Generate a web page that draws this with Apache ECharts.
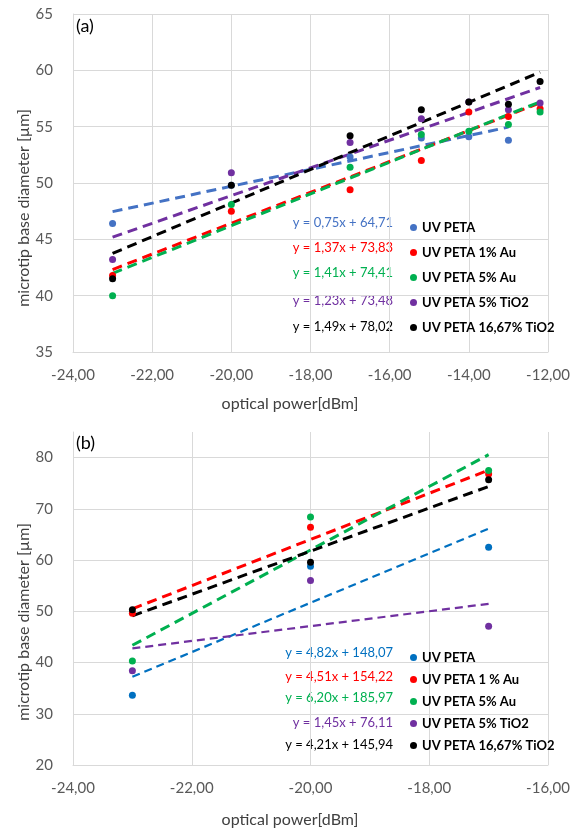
<!DOCTYPE html>
<html>
<head>
<meta charset="utf-8">
<script src="https://cdn.jsdelivr.net/npm/echarts@6/dist/echarts.min.js"></script>
<style>
  html, body { margin: 0; padding: 0; background: #fff; }
  #chart { width: 579px; height: 830px; }
</style>
</head>
<body>
<div id="chart"></div>
<script>
// ---- data ----
const seriesNamesA = ['UV PETA', 'UV PETA 1% Au', 'UV PETA 5% Au', 'UV PETA 5% TiO2', 'UV PETA 16,67% TiO2']
const seriesNamesB = ['UV PETA', 'UV PETA 1 % Au', 'UV PETA 5% Au', 'UV PETA 5% TiO2', 'UV PETA 16,67% TiO2']
const colorsA = ['#4472C4', '#FF0000', '#00B050', '#7030A0', '#000000']
const colorsB = ['#0070C0', '#FF0000', '#00B050', '#7030A0', '#000000']

// (a)
const xA = [-23, -20, -17, -15.2, -14, -13, -12.2]
const aPeta = [46.4, 49.8, 52.3, 54.0, 54.1, 53.8, null]
const aAu1 = [41.8, 47.5, 49.4, 52.0, 56.3, 55.9, 56.6]
const aAu5 = [40.0, 48.1, 51.4, 54.3, 54.6, 55.2, 56.3]
const aTi5 = [43.2, 50.9, 53.6, 55.7, 57.2, 56.5, 57.1]
const aTi16 = [41.5, 49.8, 54.2, 56.5, 57.2, 57.0, 59.0]
const slopesA = [0.75, 1.37, 1.41, 1.23, 1.49]
const interceptsA = [64.71, 73.83, 74.41, 73.48, 78.02]
const eqTextA = ['y = 0,75x + 64,71', 'y = 1,37x + 73,83', 'y = 1,41x + 74,41', 'y = 1,23x + 73,48', 'y = 1,49x + 78,02']

// (b)
const xB = [-23, -20, -17]
const bPeta = [33.6, 58.8, 62.5]
const bAu1 = [49.6, 66.4, 76.8]
const bAu5 = [40.3, 68.4, 77.5]
const bTi5 = [38.4, 56.0, 47.1]
const bTi16 = [50.3, 59.6, 75.7]
const slopesB = [4.82, 4.51, 6.20, 1.45, 4.21]
const interceptsB = [148.07, 154.22, 185.97, 76.11, 145.94]
const eqTextB = ['y = 4,82x + 148,07', 'y = 4,51x + 154,22', 'y = 6,20x + 185,97', 'y = 1,45x + 76,11', 'y = 4,21x + 145,94']

const FONT = 'Lato, "Noto Sans", sans-serif'
const GRID_COLOR = '#D9D9D9'
const LABEL_COLOR = '#595959'

var myChart = echarts.init(document.getElementById('chart'), null, { renderer: 'canvas' })

function fmt (v) { return v.toFixed(2).replace('.', ',') }

function makeX (idx, min, max) {
  return {
    gridIndex: idx, type: 'value', min: min, max: max, interval: 2,
    axisLine: { lineStyle: { color: GRID_COLOR } },
    axisTick: { show: false },
    splitLine: { lineStyle: { color: GRID_COLOR, width: 1 } },
    axisLabel: { formatter: fmt, color: LABEL_COLOR, fontSize: 15, fontFamily: FONT, margin: 16 }
  }
}
function makeY (idx, min, max, interval) {
  return {
    gridIndex: idx, type: 'value', min: min, max: max, interval: interval,
    axisLine: { show: true, lineStyle: { color: GRID_COLOR } },
    axisTick: { show: false },
    splitLine: { showMaxLine: idx === 0, lineStyle: { color: GRID_COLOR, width: 1 } },
    axisLabel: { showMaxLabel: idx === 0, color: LABEL_COLOR, fontSize: 15, fontFamily: FONT, margin: 20 }
  }
}

const series = []
function addGroup (idx, xs, ys, names, colors, slopes, intercepts, thin) {
  ys.forEach(function (vals, i) {
    const pts = []
    xs.forEach(function (x, j) { if (vals[j] != null) pts.push([x, vals[j]]) })
    const x0 = pts[0][0], x1 = pts[pts.length - 1][0]
    const isThin = thin && thin[i]
    // trend line from the equation printed on the chart
    series.push({
      type: 'line', xAxisIndex: idx, yAxisIndex: idx, silent: true, symbol: 'none',
      data: [[x0, slopes[i] * x0 + intercepts[i]], [x1, slopes[i] * x1 + intercepts[i]]],
      lineStyle: { color: colors[i], width: isThin ? 2.2 : 3, type: isThin ? [8, 5] : [10, 6] },
      z: 2
    })
    series.push({
      type: 'scatter', name: names[i], xAxisIndex: idx, yAxisIndex: idx,
      data: pts, symbolSize: 7, itemStyle: { color: colors[i], opacity: 1 }, z: 3
    })
  })
}
addGroup(0, xA, [aPeta, aAu1, aAu5, aTi5, aTi16], seriesNamesA, colorsA, slopesA, interceptsA)
addGroup(1, xB, [bPeta, bAu1, bAu5, bTi5, bTi16], seriesNamesB, colorsB, slopesB, interceptsB, [true, false, false, true, false])

const eqRowsA = [223, 248, 273, 301, 327]
const eqRowsB = [653, 677, 698, 723, 745]
const graphics = []
eqTextA.forEach(function (t, i) {
  graphics.push({ type: 'text', x: 393, y: eqRowsA[i], style: { text: t, fill: colorsA[i], font: '13px ' + FONT, textAlign: 'right', textVerticalAlign: 'middle' } })
})
eqTextB.forEach(function (t, i) {
  graphics.push({ type: 'text', x: 393, y: eqRowsB[i], style: { text: t, fill: colorsB[i], font: '13px ' + FONT, textAlign: 'right', textVerticalAlign: 'middle' } })
})
graphics.push({ type: 'text', x: 76, y: 26, style: { text: '(a)', fill: '#000', font: '18px ' + FONT, textVerticalAlign: 'middle' } })
graphics.push({ type: 'text', x: 76, y: 443, style: { text: '(b)', fill: '#000', font: '18px ' + FONT, textVerticalAlign: 'middle' } })
graphics.push({ type: 'text', x: 24, y: 208, rotation: Math.PI / 2, style: { text: 'microtip base diameter [µm]', fill: '#404040', font: '16px ' + FONT, textAlign: 'center', textVerticalAlign: 'middle' } })
graphics.push({ type: 'text', x: 24, y: 622, rotation: Math.PI / 2, style: { text: 'microtip base diameter [µm]', fill: '#404040', font: '16px ' + FONT, textAlign: 'center', textVerticalAlign: 'middle' } })
graphics.push({ type: 'text', x: 290, y: 404, style: { text: 'optical power[dBm]', fill: '#404040', font: '16px ' + FONT, textAlign: 'center', textVerticalAlign: 'middle' } })
graphics.push({ type: 'text', x: 290, y: 820, style: { text: 'optical power[dBm]', fill: '#404040', font: '16px ' + FONT, textAlign: 'center', textVerticalAlign: 'middle' } })

function legendData (names, colors) {
  return names.map(function (n, i) { return { name: n, itemStyle: { color: colors[i] } } })
}

const option = {
  animation: false,
  grid: [
    { left: 73, top: 14, width: 475, height: 338 },
    { left: 73, top: 432, width: 475, height: 333 }
  ],
  xAxis: [makeX(0, -24, -12), makeX(1, -24, -16)],
  yAxis: [makeY(0, 35, 65, 5), makeY(1, 20, 85, 10)],
  legend: [
    {
      orient: 'vertical', left: 405, top: 216, itemGap: 12, icon: 'circle', itemWidth: 7, itemHeight: 7,
      selectedMode: false, data: legendData(seriesNamesA, colorsA),
      textStyle: { fontFamily: FONT, fontSize: 13, fontWeight: 'bold', color: '#000' }
    },
    {
      orient: 'vertical', left: 405, top: 646, itemGap: 9, icon: 'circle', itemWidth: 7, itemHeight: 7,
      selectedMode: false, data: legendData(seriesNamesB, colorsB),
      textStyle: { fontFamily: FONT, fontSize: 13, fontWeight: 'bold', color: '#000' }
    }
  ],
  graphic: graphics,
  series: series
}
myChart.setOption(option)
</script>
</body>
</html>
